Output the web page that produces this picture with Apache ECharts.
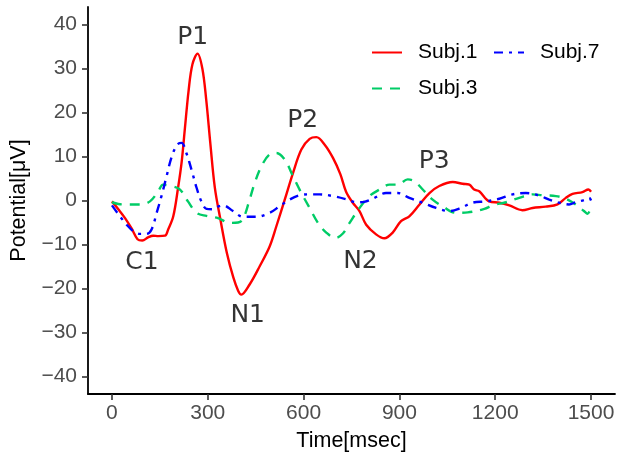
<!DOCTYPE html>
<html>
<head>
<meta charset="utf-8">
<script src="https://cdn.jsdelivr.net/npm/echarts@6/dist/echarts.min.js"></script>
<style>html,body{margin:0;padding:0;background:#fff}#chart{width:619px;height:457px}</style>
</head>
<body>
<div id="chart"></div>
<script>
// ---- data (time in msec, potential in µV) ----
var seriesNames = ['Subj.1', 'Subj.3', 'Subj.7'];
var xTicks = [0, 300, 600, 900, 1200, 1500];
var yTicks = [-40, -30, -20, -10, 0, 10, 20, 30, 40];

var subj1 = [[0,-0.2],[20,-2],[41,-4],[61,-6.3],[80,-8.8],[95,-9.1],[113,-8.4],[129,-8],[145,-8.1],[166,-8],[176,-6.6],[192,-3.6],[207,2.9],[218,8.6],[228,16.1],[240,25],[252,31],[268,33.4],[283,30],[295,23],[308,13],[322,3],[340,-4.5],[360,-12],[380,-17.5],[395,-20.5],[405,-21.4],[431,-19.1],[463,-14.9],[494,-10.4],[515,-5.8],[541,0.2],[567,6.3],[593,11.6],[619,14],[640,14.4],[666,12.7],[692,9.7],[715,6],[733,2],[754,-0.5],[775,-2.4],[796,-5.5],[827,-7.7],[853,-8.6],[879,-7.3],[905,-4.7],[931,-3.6],[963,-0.9],[994,1.7],[1025,3.3],[1067,4.2],[1098,3.8],[1119,3.6],[1134,2.5],[1150,2.1],[1181,-0.2],[1213,-0.5],[1244,-1.1],[1285,-2.2],[1317,-1.7],[1358,-1.4],[1395,-0.9],[1421,0.6],[1442,1.5],[1473,1.9],[1492,2.5],[1500,2.0]];

var subj3 = [[0,-0.4],[20,-0.8],[46,-0.9],[88,-0.9],[119,-0.2],[145,2.1],[160,3.6],[186,3.3],[213,2.5],[238,-0.2],[265,-2.8],[296,-3.5],[332,-4],[369,-5.1],[395,-5],[410,-4.3],[431,0.2],[447,4],[468,7.8],[494,10.5],[515,10.8],[541,9.3],[567,5.5],[593,1.7],[619,-1.7],[645,-5.1],[671,-7.3],[700,-8.5],[723,-7.5],[744,-5.1],[775,-1.7],[806,1],[838,2.5],[869,3.6],[895,3.6],[926,4.8],[947,4.4],[973,2.5],[1004,0.2],[1035,-1.3],[1077,-2.8],[1114,-2.7],[1166,-1.9],[1192,-1.1],[1233,-0.4],[1275,0.6],[1317,1.4],[1348,1.2],[1390,1],[1421,0.4],[1452,-0.9],[1478,-2.4],[1489,-3],[1500,-1.5]];

var subj7 = [[0,-1.1],[25,-3.6],[46,-5.5],[67,-7],[88,-7.6],[108,-7.6],[124,-6.6],[140,-2.8],[155,1],[171,5.5],[186,9.7],[204,12.7],[218,13.1],[233,10.8],[249,7],[265,2.9],[280,-0.2],[296,-1.9],[317,-2],[335,-1.3],[348,-1.1],[379,-2.4],[410,-3.7],[452,-3.7],[494,-2.8],[525,-1.3],[556,0.2],[588,1.2],[619,1.4],[650,1.4],[692,1],[733,0.3],[765,-0.4],[790,-0.3],[817,0.4],[858,1.7],[895,1.7],[931,0.6],[973,-0.5],[1015,-1.7],[1056,-2.4],[1092,-1.7],[1129,-0.5],[1171,-0.2],[1213,0.4],[1254,1.4],[1296,1.7],[1338,1.1],[1369,0.2],[1400,-0.5],[1431,-0.9],[1452,-0.4],[1478,0.1],[1494,0.6],[1500,0]];

var peakLabels = ['P1', 'P2', 'P3', 'C1', 'N1', 'N2'];
var peakX = [253, 597, 1009, 94, 425, 778];
var peakY = [37, 18.2, 8.9, -14.1, -26.1, -13.9];

// ---- chart ----
var chart = echarts.init(document.getElementById('chart'), null, {renderer: 'canvas'});
var axisFont = '"Liberation Sans", Arial, sans-serif';

function lineSeries(name, data, color, dash) {
  return {
    name: name, type: 'line', data: data, showSymbol: false, symbol: 'none',
    smooth: 0.35, silent: true,
    lineStyle: {color: color, width: 2.4, type: dash, cap: 'butt'},
    itemStyle: {color: color}
  };
}

function legendAt(names, left) {
  return {
    data: names, orient: 'vertical', left: left, top: 37, padding: 5,
    itemWidth: 30, itemHeight: 20, itemGap: 15,
    itemStyle: {opacity: 0},
    selectedMode: false,
    textStyle: {fontFamily: axisFont, fontSize: 21, color: '#000', padding: [0, 0, 0, 11]}
  };
}

var option = {
  animation: false,
  backgroundColor: '#ffffff',
  grid: {left: 88, right: 4, top: 7, bottom: 63, containLabel: false},
  legend: [legendAt(['Subj.1', 'Subj.3'], 366), legendAt(['Subj.7'], 488)],
  xAxis: {
    type: 'value', min: -75, max: 1575,
    name: 'Time[msec]', nameLocation: 'middle', nameGap: 36,
    nameTextStyle: {fontFamily: axisFont, fontSize: 21.5, color: '#000'},
    splitLine: {show: false},
    axisLine: {show: true, onZero: false, lineStyle: {color: '#000', width: 1.8}},
    axisTick: {show: true, length: 6, customValues: xTicks, lineStyle: {color: '#333', width: 1.6}},
    axisLabel: {customValues: xTicks, margin: 9, fontFamily: axisFont, fontSize: 21, color: '#4D4D4D',
      formatter: function (v) { return String(v); }}
  },
  yAxis: {
    type: 'value', min: -44, max: 44,
    name: 'Potential[μV]', nameLocation: 'middle', nameGap: 51, nameRotate: 90,
    nameTextStyle: {fontFamily: axisFont, fontSize: 21.5, color: '#000'},
    splitLine: {show: false},
    axisLine: {show: true, onZero: false, lineStyle: {color: '#000', width: 1.8}},
    axisTick: {show: true, length: 6, customValues: yTicks, lineStyle: {color: '#333', width: 1.6}},
    axisLabel: {customValues: yTicks, margin: 11, fontFamily: axisFont, fontSize: 21, color: '#4D4D4D',
      formatter: function (v) { return v < 0 ? '\u2212' + Math.abs(v) : String(v); }}
  },
  series: [
    lineSeries('Subj.1', subj1, '#FF0000', 'solid'),
    lineSeries('Subj.3', subj3, '#00CC66', [10, 8]),
    lineSeries('Subj.7', subj7, '#0000FF', [9, 6, 3, 6]),
    {
      type: 'scatter', silent: true, symbolSize: 0,
      data: peakLabels.map(function (l, i) { return {name: l, value: [peakX[i], peakY[i]]}; }),
      label: {show: true, position: 'inside', formatter: '{b}', fontFamily: 'DejaVu Sans', fontSize: 25, color: '#000'}
    }
  ]
};
chart.setOption(option);
</script>
</body>
</html>
